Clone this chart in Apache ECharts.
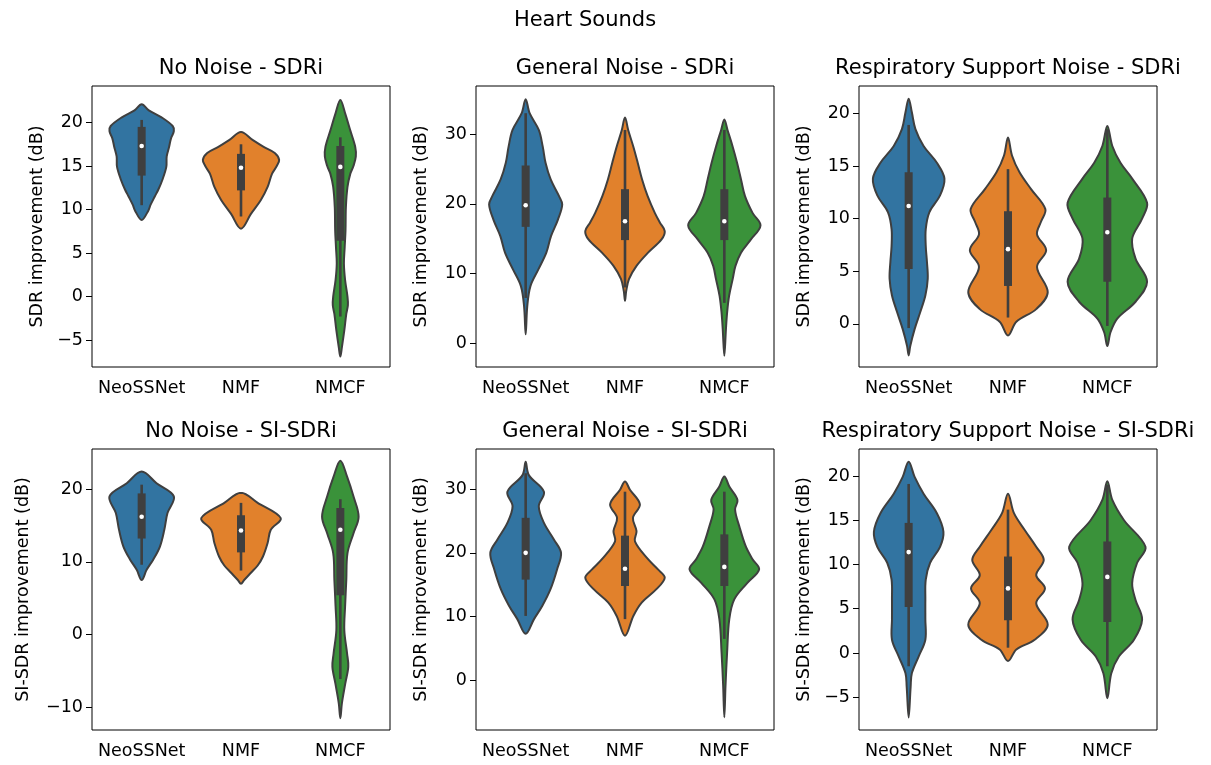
<!DOCTYPE html>
<html>
<head>
<meta charset="utf-8">
<script src="https://cdn.jsdelivr.net/npm/echarts@6/dist/echarts.min.js"></script>
<style>
  html, body { margin: 0; padding: 0; background: #fff; }
  #main { width: 1211px; height: 765px; }
</style>
</head>
<body>
<div id="main"></div>
<script>
// categories and labels
const categories = ['NeoSSNet', 'NMF', 'NMCF'];
const panelTitles = [
  'No Noise - SDRi', 'General Noise - SDRi', 'Respiratory Support Noise - SDRi',
  'No Noise - SI-SDRi', 'General Noise - SI-SDRi', 'Respiratory Support Noise - SI-SDRi'
];
const yLabels = [
  'SDR improvement (dB)', 'SDR improvement (dB)', 'SDR improvement (dB)',
  'SI-SDR improvement (dB)', 'SI-SDR improvement (dB)', 'SI-SDR improvement (dB)'
];
const yLimits = [[-8.1, 24.2], [-3.4, 36.9], [-4.1, 22.6], [-13.1, 25.5], [-7.8, 36.3], [-8.7, 23.05]];
const yTicks = [
  [-5, 0, 5, 10, 15, 20], [0, 10, 20, 30], [0, 5, 10, 15, 20],
  [-10, 0, 10, 20], [0, 10, 20, 30], [-5, 0, 5, 10, 15, 20]
];

// violin outlines: [value, relative density], top to bottom
const nnSdrNeo = [[22.1,0],[21.4,0.18],[20.6,0.5],[19.6,0.78],[19.0,0.81],[18.2,0.74],[17.2,0.69],[16.1,0.63],[14.9,0.62],[13.4,0.52],[12.3,0.42],[11.5,0.33],[10.5,0.22],[9.9,0.17],[8.8,0]];
const nnSdrNmf = [[18.9,0],[18.0,0.29],[17.2,0.57],[16.5,0.85],[15.7,0.96],[15.0,0.9],[14.1,0.78],[12.6,0.67],[11.1,0.5],[9.5,0.25],[7.8,0]];
const nnSdrNmcf = [[22.6,0],[21.0,0.125],[19.1,0.25],[17.2,0.375],[16.1,0.39],[15.0,0.33],[14.1,0.25],[12.6,0.18],[10.3,0.14],[7.6,0.13],[5.7,0.11],[3.8,0.09],[1.9,0.12],[0.0,0.18],[-1.0,0.19],[-2.0,0.15],[-3.9,0.1],[-5.8,0.04],[-6.9,0]];

const gnSdrNeo = [[35.0,0],[33.0,0.1],[30.6,0.33],[28.2,0.43],[25.9,0.5],[23.5,0.63],[21.1,0.84],[19.9,0.92],[17.7,0.81],[15.4,0.64],[13.0,0.52],[10.6,0.32],[8.2,0.12],[5.3,0.04],[1.3,0]];
const gnSdrNmf = [[32.4,0],[30.6,0.08],[28.2,0.21],[25.9,0.32],[23.5,0.43],[21.1,0.57],[18.7,0.75],[17.3,0.88],[16.1,1.0],[14.9,0.92],[13.0,0.58],[11.1,0.29],[9.2,0.1],[7.5,0.03],[6.1,0]];
const gnSdrNmcf = [[32.1,0],[30.6,0.08],[28.2,0.21],[25.9,0.32],[23.5,0.42],[21.1,0.52],[18.7,0.71],[16.9,0.91],[14.9,0.67],[13.0,0.42],[11.1,0.28],[9.2,0.21],[6.8,0.12],[4.4,0.07],[2.0,0.04],[-1.8,0]];

const rsSdrNeo = [[21.4,0],[20.1,0.08],[18.5,0.17],[16.9,0.375],[15.3,0.71],[13.8,0.9],[12.2,0.79],[10.6,0.52],[9.0,0.43],[7.4,0.43],[5.9,0.46],[4.3,0.48],[2.7,0.42],[1.1,0.29],[-0.5,0.15],[-2.1,0.04],[-3.0,0]];
const rsSdrNmf = [[17.7,0],[16.0,0.1],[14.4,0.29],[12.8,0.58],[10.9,0.94],[9.7,0.83],[8.5,0.73],[7.0,0.96],[5.4,0.73],[3.0,1.0],[1.4,0.71],[0.2,0.21],[-1.1,0]];
const rsSdrNmcf = [[18.8,0],[16.9,0.125],[15.3,0.33],[13.8,0.625],[11.5,1.0],[10.0,0.875],[8.1,0.625],[6.2,0.71],[4.0,1.0],[2.1,0.71],[0.5,0.25],[-0.8,0.08],[-2.1,0]];

const nnSiNeo = [[22.4,0],[20.8,0.375],[19.0,0.81],[16.7,0.65],[14.4,0.57],[12.1,0.46],[10.3,0.29],[8.9,0.125],[7.5,0]];
const nnSiNmf = [[19.5,0],[18.1,0.42],[16.0,1.0],[14.4,0.75],[12.6,0.67],[10.7,0.55],[9.5,0.42],[8.5,0.25],[7.5,0.08],[7.0,0]];
const nnSiNmcf = [[23.9,0],[21.7,0.17],[19.0,0.33],[16.2,0.46],[13.9,0.33],[11.2,0.18],[7.5,0.15],[3.9,0.12],[0.6,0.1],[-2.6,0.17],[-4.4,0.2],[-6.7,0.125],[-9.4,0.04],[-11.5,0]];

const gnSiNeo = [[34.3,0],[32.2,0.08],[29.6,0.46],[27.3,0.33],[24.7,0.46],[22.1,0.71],[20.0,0.89],[17.4,0.79],[14.3,0.625],[11.7,0.42],[9.6,0.21],[7.3,0]];
const gnSiNmf = [[31.2,0],[29.9,0.125],[27.6,0.375],[25.5,0.2],[23.4,0.29],[21.8,0.25],[19.0,0.58],[17.4,0.83],[16.1,1.0],[14.3,0.79],[12.2,0.42],[10.1,0.21],[7.0,0]];
const gnSiNmcf = [[32.0,0],[30.4,0.125],[28.3,0.33],[26.8,0.27],[24.2,0.375],[21.0,0.54],[19.0,0.71],[17.4,0.875],[15.3,0.58],[12.7,0.25],[9.6,0.125],[4.4,0.07],[-0.8,0.03],[-5.8,0]];

const rsSiNeo = [[21.6,0],[19.9,0.15],[18.0,0.375],[15.8,0.71],[13.7,0.875],[12.0,0.79],[10.2,0.54],[8.3,0.43],[6.0,0.42],[3.8,0.42],[1.5,0.42],[-0.4,0.25],[-2.3,0.08],[-3.8,0.05],[-7.3,0]];
const rsSiNmf = [[18.0,0],[15.8,0.15],[13.9,0.42],[12.0,0.71],[10.5,0.9],[8.8,0.71],[7.3,0.93],[5.6,0.71],[3.2,1.0],[1.5,0.67],[0.4,0.21],[-0.9,0]];
const rsSiNmcf = [[19.4,0],[17.3,0.125],[15.0,0.42],[12.0,0.96],[10.2,0.75],[7.9,0.625],[6.0,0.71],[3.8,0.875],[1.5,0.67],[-0.4,0.29],[-2.3,0.1],[-5.1,0]];

// inner boxes: [whisker low, q1, median, q3, whisker high]
const nnSdrBox = [[10.5,13.9,17.3,19.5,20.3],[9.2,12.2,14.8,16.4,17.5],[-2.3,6.4,14.9,17.3,18.3]];
const gnSdrBox = [[6.5,16.7,19.8,25.5,33.0],[8.0,14.8,17.5,22.1,30.6],[5.8,14.8,17.5,22.1,30.6]];
const rsSdrBox = [[-0.4,5.2,11.2,14.4,18.9],[0.6,3.6,7.1,10.7,14.7],[-0.2,4.0,8.7,12.0,18.5]];
const nnSiBox = [[9.6,13.2,16.2,19.4,20.6],[8.8,11.3,14.3,16.4,18.1],[-6.1,5.4,14.4,17.4,18.6]];
const gnSiBox = [[10.1,15.8,20.0,25.5,32.5],[9.6,14.8,17.5,22.7,29.6],[6.5,14.8,17.8,22.9,29.6]];
const rsSiBox = [[-1.5,5.2,11.4,14.7,19.1],[0.6,3.7,7.3,10.9,16.2],[-1.5,3.5,8.6,12.6,19.0]];

const violins = [
  [nnSdrNeo, nnSdrNmf, nnSdrNmcf], [gnSdrNeo, gnSdrNmf, gnSdrNmcf], [rsSdrNeo, rsSdrNmf, rsSdrNmcf],
  [nnSiNeo, nnSiNmf, nnSiNmcf], [gnSiNeo, gnSiNmf, gnSiNmcf], [rsSiNeo, rsSiNmf, rsSiNmcf]
];
const boxes = [nnSdrBox, gnSdrBox, rsSdrBox, nnSiBox, gnSiBox, rsSiBox];

const colors = ['#3274a1', '#e1812c', '#3a923a'];
const edge = '#3f3f3f';
const font = 'DejaVu Sans';

var chartDom = document.getElementById('main');
var myChart = echarts.init(chartDom);

const gridLeft = [92, 476, 859];
const gridTop = [86, 449];
const nameGaps = [46, 46, 46, 60, 46, 46];

function minusFmt(v) {
  return String(v).replace('-', '\u2212');
}

function makeRender(p) {
  return function (params, api) {
    const i = api.value(0);
    const prof = violins[p][i];
    const st = boxes[p][i];
    const half = api.size([1, 0])[0] * 0.4;
    const cx = api.coord([i, 0])[0];
    const left = [], right = [];
    prof.forEach(function (pt) {
      const y = api.coord([i, pt[0]])[1];
      left.push([cx - pt[1] * half, y]);
      right.push([cx + pt[1] * half, y]);
    });
    const pts = left.concat(right.slice(1, -1).reverse());
    const yv = function (v) { return api.coord([i, v])[1]; };
    return {
      type: 'group',
      children: [
        {
          type: 'polygon',
          shape: { points: pts, smooth: 0.35 },
          style: { fill: colors[i], stroke: edge, lineWidth: 2 }
        },
        {
          type: 'line',
          shape: { x1: cx, y1: yv(st[0]), x2: cx, y2: yv(st[4]) },
          style: { stroke: edge, lineWidth: 2.6 }
        },
        {
          type: 'rect',
          shape: { x: cx - 4, y: yv(st[3]), width: 8, height: yv(st[1]) - yv(st[3]) },
          style: { fill: edge }
        },
        {
          type: 'circle',
          shape: { cx: cx, cy: yv(st[2]), r: 2.3 },
          style: { fill: '#fff' }
        }
      ]
    };
  };
}

const grids = [], xAxes = [], yAxes = [], series = [];
const titles = [{
  text: 'Heart Sounds', left: 585, top: 10, textAlign: 'center', padding: 0,
  textStyle: { fontFamily: font, fontSize: 21, fontWeight: 'normal', color: '#000' }
}];

for (let p = 0; p < 6; p++) {
  const col = p % 3, row = Math.floor(p / 3);
  grids.push({
    left: gridLeft[col], top: gridTop[row], width: 298, height: 281,
    show: true, borderColor: '#000', borderWidth: 1, backgroundColor: 'transparent'
  });
  titles.push({
    text: panelTitles[p], left: gridLeft[col] + 149, top: gridTop[row] - 28,
    textAlign: 'center', padding: 0,
    textStyle: { fontFamily: font, fontSize: 21, fontWeight: 'normal', color: '#000' }
  });
  xAxes.push({
    type: 'category', gridIndex: p, data: categories,
    axisLine: { show: false },
    axisTick: { alignWithLabel: true, length: 6, lineStyle: { color: '#000' } },
    axisLabel: { interval: 0, margin: 12, fontFamily: font, fontSize: 17.5, color: '#000' },
    splitLine: { show: false }
  });
  yAxes.push({
    type: 'value', gridIndex: p, min: yLimits[p][0], max: yLimits[p][1],
    name: yLabels[p], nameLocation: 'middle', nameRotate: 90, nameGap: nameGaps[p],
    nameTextStyle: { fontFamily: font, fontSize: 17.5, color: '#000' },
    axisLine: { show: false },
    axisTick: { show: true, length: 6, customValues: yTicks[p], lineStyle: { color: '#000' } },
    axisLabel: { customValues: yTicks[p], margin: 9, fontFamily: font, fontSize: 17.5, color: '#000', formatter: minusFmt },
    splitLine: { show: false }
  });
  series.push({
    type: 'custom', xAxisIndex: p, yAxisIndex: p,
    renderItem: makeRender(p),
    encode: { x: 0, y: 1 },
    data: categories.map(function (c, i) { return [i, boxes[p][i][2]]; }),
    silent: true
  });
}

var option = {
  backgroundColor: '#fff',
  animation: false,
  title: titles,
  grid: grids,
  xAxis: xAxes,
  yAxis: yAxes,
  series: series
};

option && myChart.setOption(option);
</script>
</body>
</html>
